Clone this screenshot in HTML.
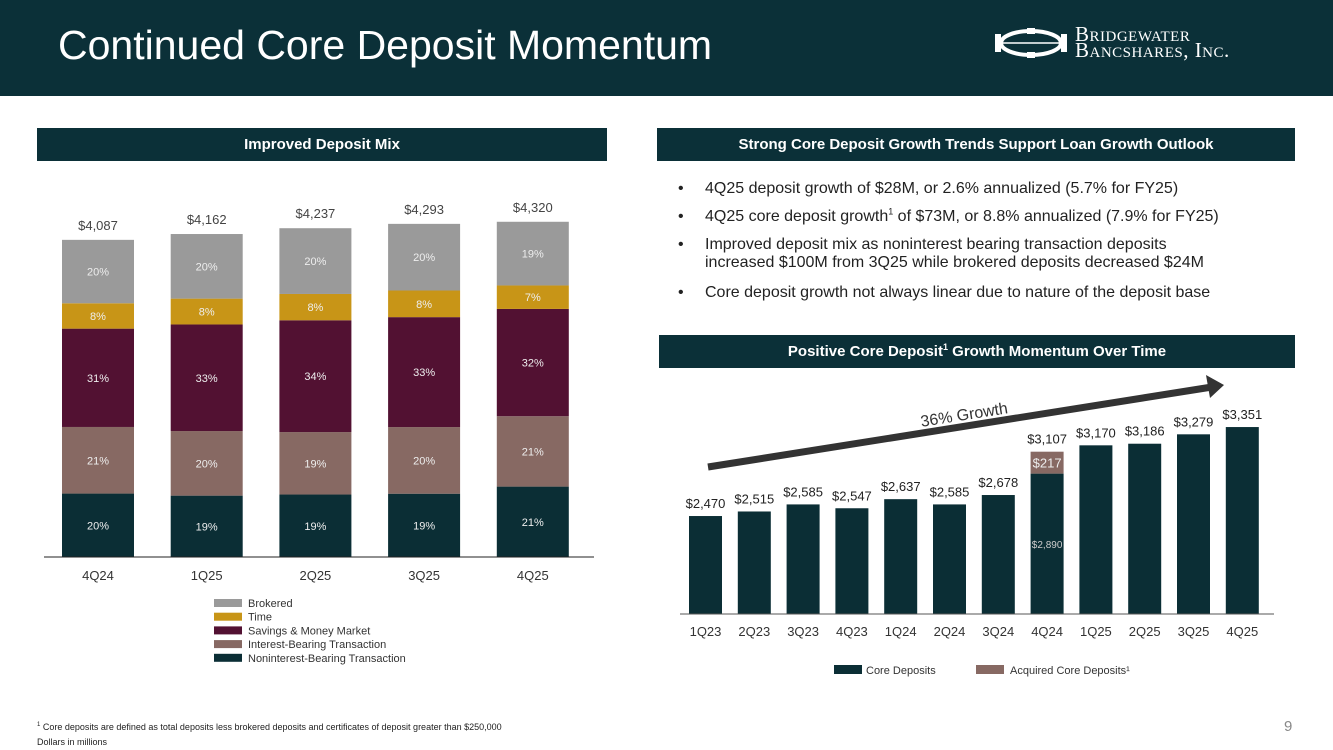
<!DOCTYPE html>
<html><head><meta charset="utf-8"><style>
body{margin:0;width:1333px;height:749px;overflow:hidden;background:#fff;font-family:"Liberation Sans",sans-serif;position:relative}
.hdr{position:absolute;left:0;top:0;width:1333px;height:96px;background:#0b3038}
.title{position:absolute;left:58px;top:22px;color:#fff;font-size:41px}
.sec{position:absolute;background:#0b3038;color:#fff;font-weight:bold;font-size:15px;text-align:center;line-height:33px;height:33px}
.bul{position:absolute;left:705px;font-size:16px;color:#222;line-height:18px}
.bul:before{content:"•";position:absolute;left:-27px}
svg{position:absolute;left:0;top:0}
</style></head><body>
<div class="hdr"></div>
<div class="title">Continued Core Deposit Momentum</div>
<svg width="76" height="36" style="left:993px;top:25px"><ellipse cx="38" cy="18" rx="30" ry="12" fill="none" stroke="#fff" stroke-width="4"/><line x1="8" y1="18" x2="68" y2="18" stroke="#fff" stroke-width="1.5"/><rect x="2" y="9" width="6" height="18" fill="#fff"/><rect x="68" y="9" width="6" height="18" fill="#fff"/><rect x="34" y="3" width="8" height="6" fill="#fff"/><rect x="34" y="27" width="8" height="6" fill="#fff"/></svg>
<div style="position:absolute;left:1075px;top:26px;color:#fff;font-family:'Liberation Serif',serif;font-size:21px;line-height:16px;white-space:nowrap;font-variant:small-caps;letter-spacing:0.5px">Bridgewater<br>Bancshares, Inc.</div>
<div class="sec" style="left:37px;top:128px;width:570px">Improved Deposit Mix</div>
<div class="sec" style="left:657px;top:128px;width:638px">Strong Core Deposit Growth Trends Support Loan Growth Outlook</div>
<div class="sec" style="left:659px;top:335px;width:636px">Positive Core Deposit<sup style="font-size:9px;line-height:0">1</sup> Growth Momentum Over Time</div>
<div class="bul" style="top:180px">4Q25 deposit growth of $28M, or 2.6% annualized (5.7% for FY25)</div>
<div class="bul" style="top:208px">4Q25 core deposit growth<sup style="font-size:9px;line-height:0">1</sup> of $73M, or 8.8% annualized (7.9% for FY25)</div>
<div class="bul" style="top:236px">Improved deposit mix as noninterest bearing transaction deposits<br>increased $100M from 3Q25 while brokered deposits decreased $24M</div>
<div class="bul" style="top:284px">Core deposit growth not always linear due to nature of the deposit base</div>
<div style="position:absolute;left:37px;top:718px;font-size:9px;color:#222;line-height:15px"><sup style="font-size:6px">1</sup> Core deposits are defined as total deposits less brokered deposits and certificates of deposit greater than $250,000<br>Dollars in millions</div>
<div style="position:absolute;left:1284px;top:718px;font-size:15px;color:#888">9</div>
<svg id="c" width="1333" height="749"></svg>
<script>
const mixCats=["4Q24","1Q25","2Q25","3Q25","4Q25"];
const mixTotals=[4087,4162,4237,4293,4320];
const nonint=[20,19,19,19,21];
const intBear=[21,20,19,20,21];
const savings=[31,33,34,33,32];
const timeD=[8,8,8,8,7];
const brokered=[20,20,20,20,19];
const coreCats=["1Q23","2Q23","3Q23","4Q23","1Q24","2Q24","3Q24","4Q24","1Q25","2Q25","3Q25","4Q25"];
const coreVals=[2470,2515,2585,2547,2637,2585,2678,2890,3170,3186,3279,3351];
const acquired=[0,0,0,0,0,0,0,217,0,0,0,0];
const NS="http://www.w3.org/2000/svg",svg=document.getElementById('c');
function el(t,a,txt){const e=document.createElementNS(NS,t);for(const k in a)e.setAttribute(k,a[k]);if(txt!==undefined)e.textContent=txt;svg.appendChild(e);return e}
const fmt=v=>"$"+v.toLocaleString("en-US");
const base1=557,k1=0.0776,x1=i=>62+i*108.7,bw1=72;
const series=[[nonint,"#0b2e35","nonint"],[intBear,"#876963","interest-bearing"],[savings,"#521132","savings"],[timeD,"#c89517","time"],[brokered,"#9a9a9a","brokered"]];
mixCats.forEach((c,i)=>{let y=base1;const H=mixTotals[i]*k1;
 series.forEach(s=>{const h=H*s[0][i]/100;y-=h;
  const r=el('rect',{x:x1(i),y:y,width:bw1,height:h,fill:s[1]});
  
  
  const t=el('text',{x:x1(i)+bw1/2,y:y+h/2+4,'text-anchor':'middle','font-size':11,fill:'#eee'},s[0][i]+"%");
  
  });
 const tl=el('text',{x:x1(i)+bw1/2,y:base1-H-10,'text-anchor':'middle','font-size':13,fill:'#444'},fmt(mixTotals[i]));
 
 
 const xl=el('text',{x:x1(i)+bw1/2,y:580,'text-anchor':'middle','font-size':13,fill:'#333'},c);
 
 });
const ax1=el('line',{x1:44,x2:594,y1:base1,y2:base1,stroke:'#222','stroke-width':1});


[["Brokered","#9a9a9a"],["Time","#c89517"],["Savings & Money Market","#521132"],["Interest-Bearing Transaction","#876963"],["Noninterest-Bearing Transaction","#0b2e35"]].forEach((l,i)=>{
 const r=el('rect',{x:214,y:599+i*13.7,width:28,height:8,fill:l[1]});
 
 
 const t=el('text',{x:248,y:607+i*13.7,'font-size':11,fill:'#333'},l[0]);
 
 });
const base2=614,min2=1500,k2=0.101,x2=i=>689+i*48.8,bw2=33,y2=v=>base2-(v-min2)*k2;
coreCats.forEach((c,i)=>{
 const r=el('rect',{x:x2(i),y:y2(coreVals[i]),width:bw2,height:base2-y2(coreVals[i]),fill:'#0b2e35'});
 
 
 let top=coreVals[i];
 if(acquired[i]>0){top+=acquired[i];
  const a=el('rect',{x:x2(i),y:y2(top),width:bw2,height:y2(coreVals[i])-y2(top),fill:'#876963'});
  
  
  const at=el('text',{x:x2(i)+bw2/2,y:(y2(top)+y2(coreVals[i]))/2+5,'text-anchor':'middle','font-size':13,fill:'#eee'},fmt(acquired[i]));
  
  
  const it=el('text',{x:x2(i)+bw2/2,y:(y2(coreVals[i])+base2)/2+4,'text-anchor':'middle','font-size':10,fill:'#ccc'},fmt(coreVals[i]));
  
  }
 const vl=el('text',{x:x2(i)+bw2/2,y:y2(top)-8,'text-anchor':'middle','font-size':13,fill:'#222'},fmt(top));
 
 
 const xl=el('text',{x:x2(i)+bw2/2,y:636,'text-anchor':'middle','font-size':13,fill:'#333'},c);
 
 });
const ax2=el('line',{x1:680,x2:1274,y1:base2,y2:base2,stroke:'#555','stroke-width':1});


const ar=el('line',{x1:708,y1:467,x2:1212,y2:387,stroke:'#333','stroke-width':7});


const ah=el('polygon',{points:"1224,385 1206,375 1210,398",fill:'#333'});


const gt=el('text',{x:965,y:420,'text-anchor':'middle','font-size':16,fill:'#333',transform:'rotate(-9 965 420)'},"36% Growth");


[["Core Deposits","#0b2e35",834,866],["Acquired Core Deposits¹","#876963",976,1010]].forEach(l=>{
 const r=el('rect',{x:l[2],y:665,width:28,height:9,fill:l[1]});
 
 
 const t=el('text',{x:l[3],y:674,'font-size':11,fill:'#333'},l[0]);
 
 });
</script>
</body></html>
